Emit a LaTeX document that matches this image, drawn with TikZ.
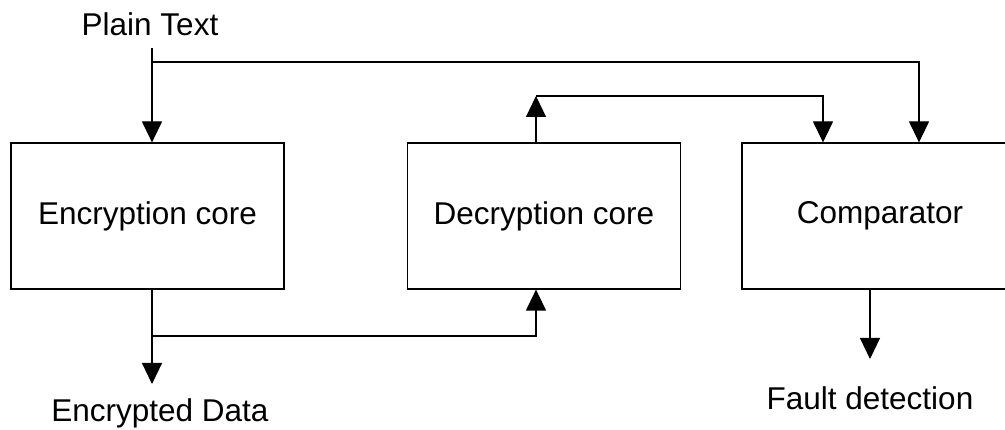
\documentclass[tikz,border=0pt]{standalone}
\usepackage{fontspec}
\setmainfont{Liberation Sans}
\usetikzlibrary{arrows.meta}
\begin{document}
\begin{tikzpicture}[x=1pt,y=-1pt,
  box/.style={draw, line width=1.2pt, minimum width=273pt, minimum height=146pt, inner sep=0pt, font=\fontsize{31.5}{37}\selectfont},
  lbl/.style={inner sep=0pt, anchor=base, font=\fontsize{31.5}{37}\selectfont},
  conn/.style={line width=1.2pt},
  arr/.style={conn, -{Triangle[length=21pt,width=20pt]}}]
\useasboundingbox (0,0) rectangle (1005,430);
\clip (0,0) rectangle (1005,430);
% boxes
\node[box] (enc) at (147.5,216) {Encryption core};
\node[box] (dec) at (544,216) {Decryption core};
\node[box, minimum width=276pt] (comp) at (880,216) {Comparator};
% labels
\node[lbl] (pt) at (150,36) {Plain Text};
\node[lbl] (ed) at (160,422) {Encrypted Data};
\node[lbl] (fd) at (870,410) {Fault detection};
% coordinates
\coordinate (ptin) at (152,48);
\coordinate (pth) at (152,62);
\coordinate (a1) at (919,62);
\coordinate (d1) at (536,96);
\coordinate (d2) at (823,96);
\coordinate (e1) at (152,384);
\coordinate (e2) at (152,336);
\coordinate (e3) at (536,336);
\coordinate (f1) at (870,359);
% connectors
\draw[arr] (ptin) -- (ptin |- enc.north);
\draw[arr] (pth) -- (a1) -- (a1 |- comp.north);
\draw[arr] (d1 |- dec.north) -- (d1);
\draw[arr] (d1) -- (d2) -- (d2 |- comp.north);
\draw[arr] (e1 |- enc.south) -- (e1);
\draw[arr] (e2) -- (e3) -- (e3 |- dec.south);
\draw[arr] (f1 |- comp.south) -- (f1);
\end{tikzpicture}
\end{document}
